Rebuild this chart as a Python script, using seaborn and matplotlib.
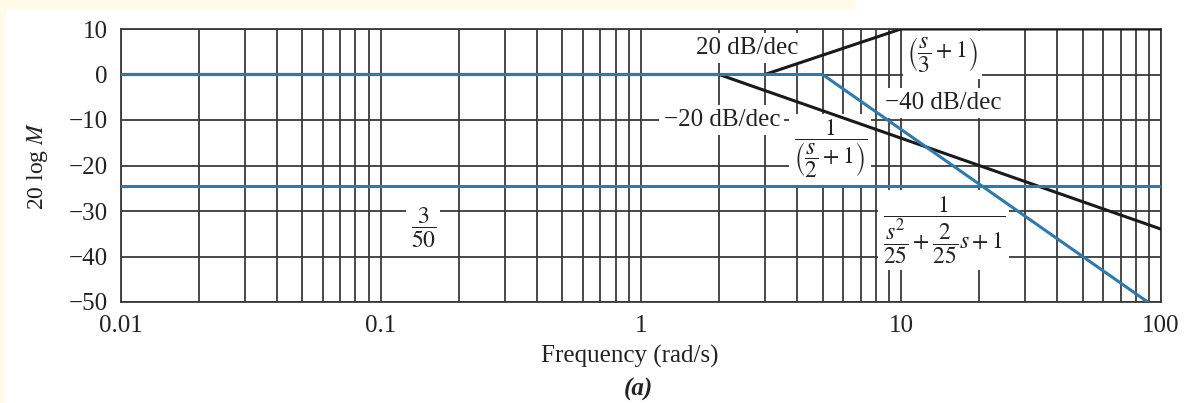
import numpy as np
import pandas as pd
import matplotlib
matplotlib.use("Agg")
import matplotlib.pyplot as plt
import seaborn as sns
from matplotlib.patches import Rectangle

# ---- data ----
gain_freq = [0.01, 100]
gain_db = [-24.44, -24.44]            # 3/50
zero_freq = [0.01, 3, 10, 100]
zero_db = [0, 0, 10, 10]              # (s/3 + 1)
pole_freq = [0.01, 2, 100]
pole_db = [0, 0, -33.98]              # 1/(s/2 + 1)
quad_freq = [0.01, 5, 88.9]
quad_db = [0, 0, -50]                 # 1/(s^2/25 + 2s/25 + 1)

xticks = [0.01, 0.1, 1, 10, 100]
xtick_labels = ["0.01", "0.1", "1", "10", "100"]
yticks = [10, 0, -10, -20, -30, -40, -50]
ytick_labels = ["10", "0", "\u221210", "\u221220", "\u221230", "\u221240", "\u221250"]

BLUE = "#2b7bb0"
BLACK = "#1a1a1a"
TXT = "#222222"

sns.set_theme(style="white")
plt.rcParams["font.family"] = ["Liberation Serif", "DejaVu Serif"]
plt.rcParams["mathtext.fontset"] = "stix"

fig = plt.figure(figsize=(11.86, 4.03), dpi=100)
fig.patch.set_facecolor("white")
# pale slide background strips
fig.patches.append(Rectangle((0, 0), 6 / 1186, 1, transform=fig.transFigure,
                             facecolor="#fffbe8", edgecolor="none", zorder=0))
fig.patches.append(Rectangle((0, 1 - 9 / 403), 855 / 1186, 9 / 403, transform=fig.transFigure,
                             facecolor="#fffbe8", edgecolor="none", zorder=0))

ax = fig.add_axes([120.5 / 1186, 1 - 302 / 403, (1161 - 120.5) / 1186, (302 - 29) / 403])
ax.set_xscale("log")
ax.set_xlim(0.01, 100)
ax.set_ylim(-50, 10)

ax.set_xticks(xticks)
ax.set_xticklabels(xtick_labels)
ax.set_yticks(yticks)
ax.set_yticklabels(ytick_labels)
ax.xaxis.set_minor_locator(matplotlib.ticker.LogLocator(base=10, subs=np.arange(2, 10)))
ax.xaxis.set_minor_formatter(matplotlib.ticker.NullFormatter())
ax.grid(True, which="both", axis="x", color="#3a3a3a", lw=1.3)
ax.grid(True, which="major", axis="y", color="#3a3a3a", lw=1.3)
ax.tick_params(which="both", length=0, labelsize=18, colors=TXT)
ax.tick_params(axis="x", pad=9)
ax.tick_params(axis="y", pad=9)
for s in ["left", "bottom", "top", "right"]:
    ax.spines[s].set_color("#3a3a3a")
    ax.spines[s].set_linewidth(1.3)
ax.set_axisbelow(True)

def draw(f, d, color, lw):
    df = pd.DataFrame({"f": f, "d": d})
    sns.lineplot(data=df, x="f", y="d", ax=ax, color=color, lw=lw,
                 sort=False, estimator=None, zorder=3)

draw(zero_freq, zero_db, BLACK, 2.2)
draw(pole_freq, pole_db, BLACK, 2.2)
draw(quad_freq, quad_db, BLUE, 2.2)
draw(gain_freq, gain_db, BLUE, 2.2)
ax.set_xlabel("")
ax.set_ylabel("")

box = dict(facecolor="white", edgecolor="none", pad=3)
tk = dict(ha="center", va="center", fontsize=18, color=TXT, zorder=2, bbox=box)
mk = dict(ha="center", va="center", fontsize=17, color=TXT, zorder=2, bbox=box)
ax.text(2.56, 5.8, "20 dB/dec", **tk)
ax.text(14.5, 4.3, r"$\left(\dfrac{s}{3}+1\right)$", **mk)
ax.text(14.5, -6.3, "\u221240 dB/dec", **tk)
ax.text(2.05, -10.0, "\u221220 dB/dec", **tk)
ax.text(5.35, -16.4, r"$\dfrac{1}{\left(\dfrac{s}{2}+1\right)}$", **mk)
ax.text(0.146, -33.7, r"$\dfrac{3}{50}$", **mk)
ax.text(14.6, -34.2, r"$\dfrac{1}{\dfrac{s^2}{25}+\dfrac{2}{25}s+1}$", **mk)

fig.text(37 / 1186, 1 - 166 / 403, "20 log $\\mathit{M}$", rotation=90,
         ha="center", va="center", fontsize=17, color=TXT)
fig.text(630 / 1186, 1 - 356 / 403, "Frequency (rad/s)", ha="center", va="center",
         fontsize=18, color=TXT)
fig.text(638 / 1186, 1 - 389 / 403, "(a)", ha="center", va="center",
         fontsize=18, color=TXT, fontweight="bold", fontstyle="italic")

fig.savefig("out.png", dpi=100, facecolor=fig.get_facecolor())
